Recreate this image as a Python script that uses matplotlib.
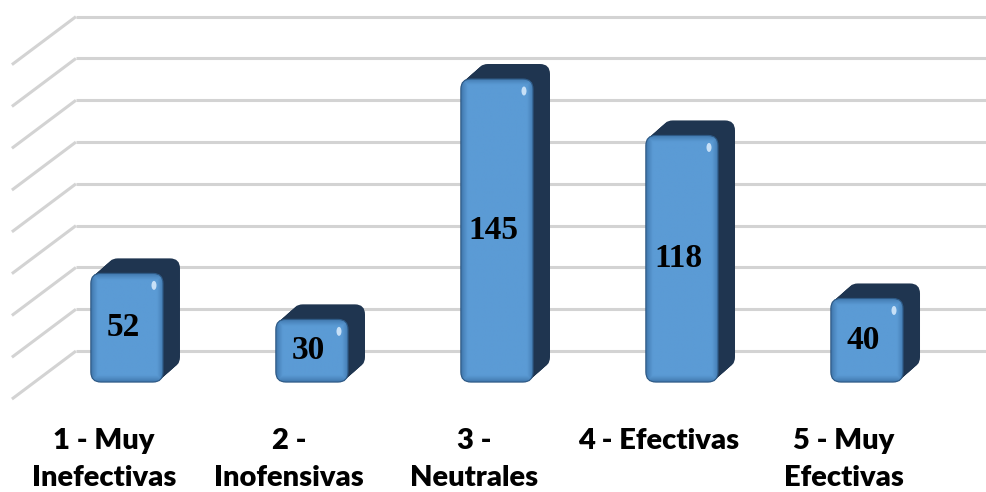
import numpy as np
import matplotlib
matplotlib.use("Agg")
import matplotlib.pyplot as plt
from matplotlib.patches import FancyBboxPatch, Ellipse
from matplotlib.colors import to_rgb

categories = ["1 - Muy\nInefectivas", "2 -\nInofensivas", "3 -\nNeutrales",
              "4 - Efectivas", "5 - Muy\nEfectivas"]
values = [52, 30, 145, 118, 40]
grid_values = [0, 20, 40, 60, 80, 100, 120, 140, 160]

# figure geometry (pixels per data unit on each axis)
PX_X = 185.0
PX_Y = 2.09
BAR_W = 0.39
DEPTH_X = 17 / PX_X
DEPTH_Y = 15 / PX_Y
WALL_Y = 31 / PX_Y          # back wall sits higher than the bar fronts
WALL_X = -51 / PX_X
SLANT_X = -64 / PX_X
SLANT_Y = -48 / PX_Y
RADIUS = 10 / PX_X
ASPECT = PX_X / PX_Y
LABEL_Y = [-59 / PX_Y, -96 / PX_Y]

FACE = np.array(to_rgb("#5b9bd5"))
EDGE = np.array(to_rgb("#3a6fa3"))
SIDE = "#1f3550"

fig = plt.figure(figsize=(9.87, 4.92), dpi=100)
ax = fig.add_axes([0, 0, 1, 1])
xlim = (-0.686, 4.649)
ylim = (-52.6, 182.8)

# back wall gridlines plus the slanted side wall lines
for g in grid_values:
    yb = g + WALL_Y
    ax.plot([WALL_X, xlim[1]], [yb, yb], color="#d3d3d3", lw=2.2,
            solid_capstyle="butt", zorder=1)
    ax.plot([WALL_X, WALL_X + SLANT_X], [yb, yb + SLANT_Y], color="#d3d3d3",
            lw=2.2, solid_capstyle="butt", zorder=1)


def rounded(x0, y0, w, h, **kw):
    return FancyBboxPatch((x0, y0), w, h,
                          boxstyle=f"round,pad=0,rounding_size={RADIUS}",
                          mutation_aspect=ASPECT, **kw)


for i, v in enumerate(values):
    x0 = i - BAR_W / 2
    # extruded body, swept from the back to the front
    for t in np.linspace(1, 0, 14):
        ax.add_patch(rounded(x0 + t * DEPTH_X, t * DEPTH_Y, BAR_W, v,
                             facecolor=SIDE, edgecolor="none", zorder=3))

    front = rounded(x0, 0, BAR_W, v, facecolor="none",
                    edgecolor="#2e5a86", lw=0.8, zorder=5)
    ax.add_patch(front)

    # bevelled shading of the front face
    wpx = int(BAR_W * PX_X)
    hpx = max(int(v * PX_Y), 2)
    xx, yy = np.meshgrid(np.arange(wpx) + 0.5, np.arange(hpx) + 0.5)
    d = np.minimum.reduce([xx, wpx - xx, yy, hpx - yy])
    k = np.clip(d / 7.0, 0, 1) ** 0.7
    img = EDGE[None, None, :] * (1 - k[..., None]) + FACE[None, None, :] * k[..., None]
    im = ax.imshow(img, extent=[x0, x0 + BAR_W, 0, v], origin="lower",
                   aspect="auto", interpolation="bilinear", zorder=4)
    im.set_clip_path(front)

    ax.add_patch(Ellipse((x0 + BAR_W - 9 / PX_X, v - 12 / PX_Y),
                         5 / PX_X, 9 / PX_Y, facecolor="#d4e8fb",
                         edgecolor="none", alpha=0.9, zorder=6))

    ax.text(i - 0.02, v / 2, str(v), ha="center", va="center",
            fontsize=24, fontweight="bold", family="Liberation Serif",
            color="black", zorder=7)

    for line, ly in zip(categories[i].split("\n"), LABEL_Y):
        ax.text(i - 0.124, ly, line, ha="center", va="center",
                fontsize=21, fontweight="heavy", family="Lato",
                color="black")

ax.set_xlim(*xlim)
ax.set_ylim(*ylim)
ax.axis("off")
fig.savefig("out.png", dpi=100, facecolor="white")
